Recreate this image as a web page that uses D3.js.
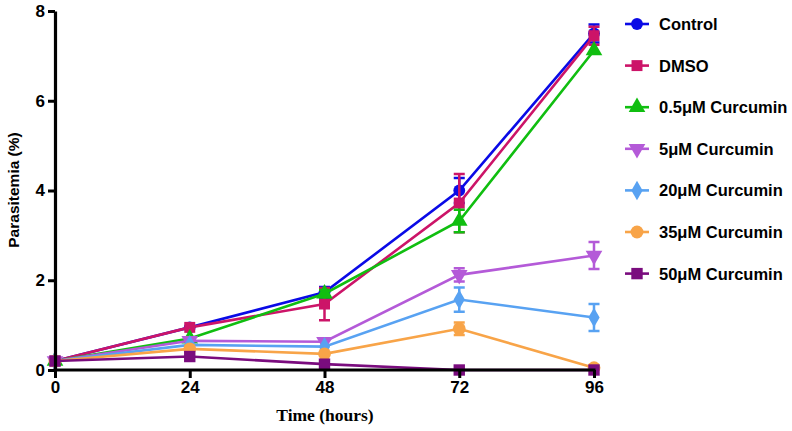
<!DOCTYPE html>
<html><head><meta charset="utf-8">
<script src="https://cdn.jsdelivr.net/npm/d3@7"></script>
<style>body{margin:0;background:#fff}</style>
</head><body>
<svg id="c" width="792" height="431"></svg>
<script>
const hours = [0, 24, 48, 72, 96];
const xTicks = [0, 24, 48, 72, 96];
const yTicks = [0, 2, 4, 6, 8];
const seriesNames = ["Control", "DMSO", "0.5\u03bcM Curcumin", "5\u03bcM Curcumin", "20\u03bcM Curcumin", "35\u03bcM Curcumin", "50\u03bcM Curcumin"];
const control   = [0.2, 0.95, 1.73, 4.0, 7.5];
const dmso      = [0.2, 0.95, 1.47, 3.72, 7.45];
const cur05     = [0.2, 0.7, 1.7, 3.32, 7.12];
const cur5      = [0.2, 0.65, 0.63, 2.12, 2.55];
const cur20     = [0.2, 0.56, 0.52, 1.57, 1.17];
const cur35     = [0.2, 0.47, 0.36, 0.92, 0.05];
const cur50     = [0.2, 0.3, 0.13, 0.0, 0.0];
const errControl = [0, 0.05, 0.12, 0.28, 0.2];
const errDmso    = [0, 0.05, 0.36, 0.65, 0.2];
const errCur05   = [0, 0.04, 0.08, 0.25, 0.05];
const errCur5    = [0, 0.03, 0.05, 0.15, 0.3];
const errCur20   = [0, 0.03, 0.04, 0.27, 0.3];
const errCur35   = [0, 0.03, 0.04, 0.14, 0.03];
const errCur50   = [0, 0.02, 0.03, 0.0, 0.0];

const values = [control, dmso, cur05, cur5, cur20, cur35, cur50];
const errors = [errControl, errDmso, errCur05, errCur5, errCur20, errCur35, errCur50];
const colors = ["#0A0AE6", "#CC1468", "#10BE10", "#B45AD8", "#58A2F2", "#F8A448", "#7A0C7E"];
const shapes = [d3.symbolCircle, d3.symbolSquare, d3.symbolTriangle, "tri-down", d3.symbolDiamond, d3.symbolCircle, d3.symbolSquare];
const sizes = [110, 120, 120, 120, 110, 130, 130];

const svg = d3.select("#c");
const x = d3.scaleLinear().domain([0, 96]).range([55, 594]);
const y = d3.scaleLinear().domain([0, 8]).range([370, 11]);

function symPath(i) {
  if (shapes[i] === "tri-down") return d3.symbol(d3.symbolTriangle, sizes[i])();
  return d3.symbol(shapes[i], sizes[i])();
}
function symTransform(i, px, py) {
  return shapes[i] === "tri-down" ? `translate(${px},${py}) rotate(180)` : `translate(${px},${py})`;
}

// series
const line = d3.line().x((d, j) => x(hours[j])).y(d => y(d));
values.forEach((vals, i) => {
  const g = svg.append("g");
  g.append("path").attr("d", line(vals)).attr("fill", "none")
    .attr("stroke", colors[i]).attr("stroke-width", 2.6);
  vals.forEach((v, j) => {
    const e = errors[i][j];
    if (e > 0.06) {
      const cx = x(hours[j]);
      g.append("path")
        .attr("d", `M${cx},${y(v - e)}V${y(v + e)}M${cx - 5.5},${y(v + e)}H${cx + 5.5}M${cx - 5.5},${y(v - e)}H${cx + 5.5}`)
        .attr("stroke", colors[i]).attr("stroke-width", 2.5).attr("fill", "none");
    }
    g.append("path").attr("d", symPath(i)).attr("transform", symTransform(i, x(hours[j]), y(v)))
      .attr("fill", colors[i]);
  });
});

// axes
const xAxis = d3.axisBottom(x).tickValues(xTicks).tickSize(8).tickPadding(3).tickSizeOuter(0);
const yAxis = d3.axisLeft(y).tickValues(yTicks).tickSize(7).tickPadding(3).tickSizeOuter(0);
const gx = svg.append("g").attr("transform", "translate(0,370)").call(xAxis);
const gy = svg.append("g").attr("transform", "translate(55,0)").call(yAxis);
[gx, gy].forEach(g => {
  g.select(".domain").attr("stroke", "#000").attr("stroke-width", 3.2);
  g.selectAll(".tick line").attr("stroke", "#000").attr("stroke-width", 3);
  g.selectAll(".tick text").attr("fill", "#000")
    .style("font-family", "Liberation Sans, Arial, sans-serif").style("font-weight", "bold").style("font-size", "17px");
});
gx.select(".domain").attr("d", "M53.5,0H595.5");

svg.append("text").attr("x", 325).attr("y", 421).attr("text-anchor", "middle")
  .style("font-family", "Liberation Serif, Times New Roman, serif").style("font-weight", "bold").style("font-size", "17.5px")
  .text("Time (hours)");
svg.append("text").attr("transform", "translate(19,190) rotate(-90)").attr("text-anchor", "middle")
  .style("font-family", "Liberation Sans, Arial, sans-serif").style("font-weight", "bold").style("font-size", "15.5px")
  .text("Parasitemia (%)");

// legend
const legend = svg.append("g");
seriesNames.forEach((name, i) => {
  const ly = 24 + i * 41.6;
  legend.append("line").attr("x1", 625).attr("x2", 649).attr("y1", ly).attr("y2", ly)
    .attr("stroke", colors[i]).attr("stroke-width", 2.6);
  legend.append("path").attr("d", symPath(i)).attr("transform", symTransform(i, 637, ly)).attr("fill", colors[i]);
  legend.append("text").attr("x", 659).attr("y", ly + 6)
    .style("font-family", "Liberation Sans, Arial, sans-serif").style("font-weight", "bold").style("font-size", "16.5px")
    .text(name);
});
</script>
</body></html>
